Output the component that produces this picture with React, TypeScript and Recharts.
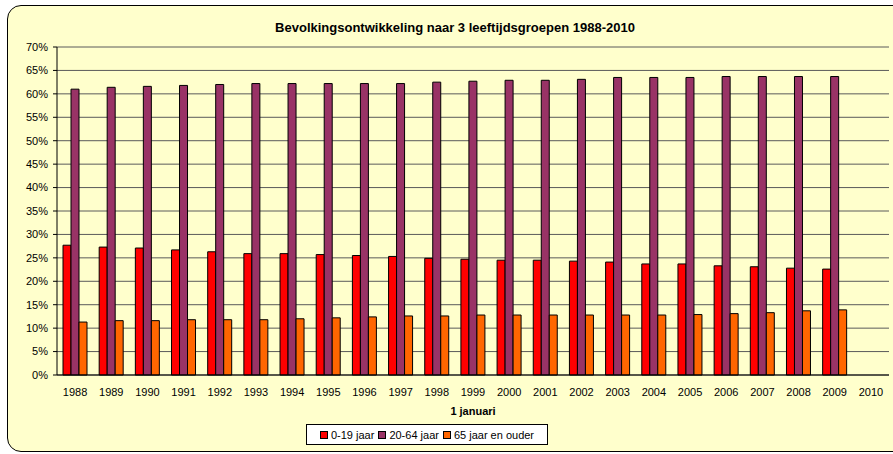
import React from 'react'
import { BarChart, Bar, XAxis, YAxis, CartesianGrid } from 'recharts'

const years = [
  '1988', '1989', '1990', '1991', '1992', '1993', '1994', '1995', '1996', '1997', '1998', '1999',
  '2000', '2001', '2002', '2003', '2004', '2005', '2006', '2007', '2008', '2009', '2010',
]

const young = [
  27.7, 27.3, 27.1, 26.7, 26.3, 25.9, 25.9, 25.7, 25.5, 25.3, 24.9, 24.7,
  24.5, 24.5, 24.3, 24.1, 23.7, 23.7, 23.3, 23.1, 22.8, 22.6, null,
]
const working = [
  61.0, 61.4, 61.6, 61.8, 62.0, 62.2, 62.2, 62.2, 62.2, 62.2, 62.5, 62.7,
  62.9, 62.9, 63.1, 63.5, 63.5, 63.5, 63.7, 63.7, 63.7, 63.7, null,
]
const elderly = [
  11.3, 11.6, 11.6, 11.8, 11.8, 11.8, 12.0, 12.2, 12.4, 12.6, 12.6, 12.8,
  12.8, 12.8, 12.8, 12.8, 12.8, 12.9, 13.1, 13.3, 13.7, 13.9, null,
]

const yTicks = [0, 5, 10, 15, 20, 25, 30, 35, 40, 45, 50, 55, 60, 65, 70]
const edgeTicks = years.map((_, i) => i).concat([years.length])

const series = [
  { key: 'young', name: '0-19 jaar', color: '#FF0000' },
  { key: 'working', name: '20-64 jaar', color: '#993366' },
  { key: 'elderly', name: '65 jaar en ouder', color: '#FF6600' },
]

const data = years.map((year, i) => ({
  year,
  young: young[i],
  working: working[i],
  elderly: elderly[i],
}))

const font = '"Liberation Sans", Arial, sans-serif'
const tickStyle = { fontSize: 11, fill: '#000', fontFamily: font }

export default function App() {
  return (
    <div style={{ position: 'absolute', left: 0, top: 0, width: 893, height: 454, overflow: 'hidden', fontFamily: font }}>
      <div
        style={{
          position: 'absolute',
          left: 7,
          top: 5,
          width: 930,
          height: 445,
          border: '1.5px solid #000',
          borderRadius: 14,
          background: '#FFFFCC',
        }}
      />
      <div
        style={{
          position: 'absolute',
          left: 0,
          width: 910,
          top: 20,
          textAlign: 'center',
          fontWeight: 'bold',
          fontSize: 13,
          color: '#000',
        }}
      >
        Bevolkingsontwikkeling naar 3 leeftijdsgroepen 1988-2010
      </div>
      <div style={{ position: 'absolute', left: 0, top: 0 }}>
        <BarChart
          width={893}
          height={454}
          data={data}
          margin={{ top: 47, right: 4, left: 0, bottom: 49 }}
          barSize={8}
          barGap={0}
        >
          <CartesianGrid vertical={false} stroke="#5a5a5a" strokeWidth={1} />
          <XAxis
            xAxisId="edges"
            type="number"
            domain={[0, years.length]}
            ticks={edgeTicks}
            tick={false}
            tickSize={4}
            axisLine={false}
            tickLine={{ stroke: '#000' }}
            height={0}
          />
          <XAxis
            dataKey="year"
            interval={0}
            tick={tickStyle}
            tickLine={false}
            tickSize={6}
            tickMargin={7}
            axisLine={{ stroke: '#000' }}
            height={30}
          />
          <YAxis
            domain={[0, 70]}
            ticks={yTicks}
            interval={0}
            tickFormatter={(v: number) => `${v}%`}
            tick={tickStyle}
            tickSize={4}
            tickMargin={5}
            axisLine={{ stroke: '#000' }}
            tickLine={{ stroke: '#000' }}
            width={57}
          />
          <YAxis
            yAxisId="right"
            orientation="right"
            domain={[0, 70]}
            tick={false}
            tickLine={false}
            axisLine={{ stroke: '#808080' }}
            width={0}
          />
          {series.map((s) => (
            <Bar
              key={s.key}
              dataKey={s.key}
              name={s.name}
              fill={s.color}
              stroke="#000"
              strokeWidth={1}
              isAnimationActive={false}
            />
          ))}
        </BarChart>
      </div>
      <div
        style={{
          position: 'absolute',
          left: 400,
          width: 146,
          top: 405,
          textAlign: 'center',
          fontWeight: 'bold',
          fontSize: 11,
          color: '#000',
        }}
      >
        1 januari
      </div>
      <div
        style={{
          position: 'absolute',
          left: 306,
          top: 424,
          width: 242,
          height: 21,
          border: '1px solid #000',
          background: '#fff',
          display: 'flex',
          alignItems: 'center',
          justifyContent: 'center',
          gap: 4,
          fontSize: 11,
          color: '#000',
          boxSizing: 'border-box',
        }}
      >
        {series.map((s) => (
          <span key={s.key} style={{ display: 'flex', alignItems: 'center', gap: 3 }}>
            <span style={{ width: 6, height: 6, background: s.color, border: '1px solid #000', display: 'inline-block' }} />
            {s.name}
          </span>
        ))}
      </div>
    </div>
  )
}
